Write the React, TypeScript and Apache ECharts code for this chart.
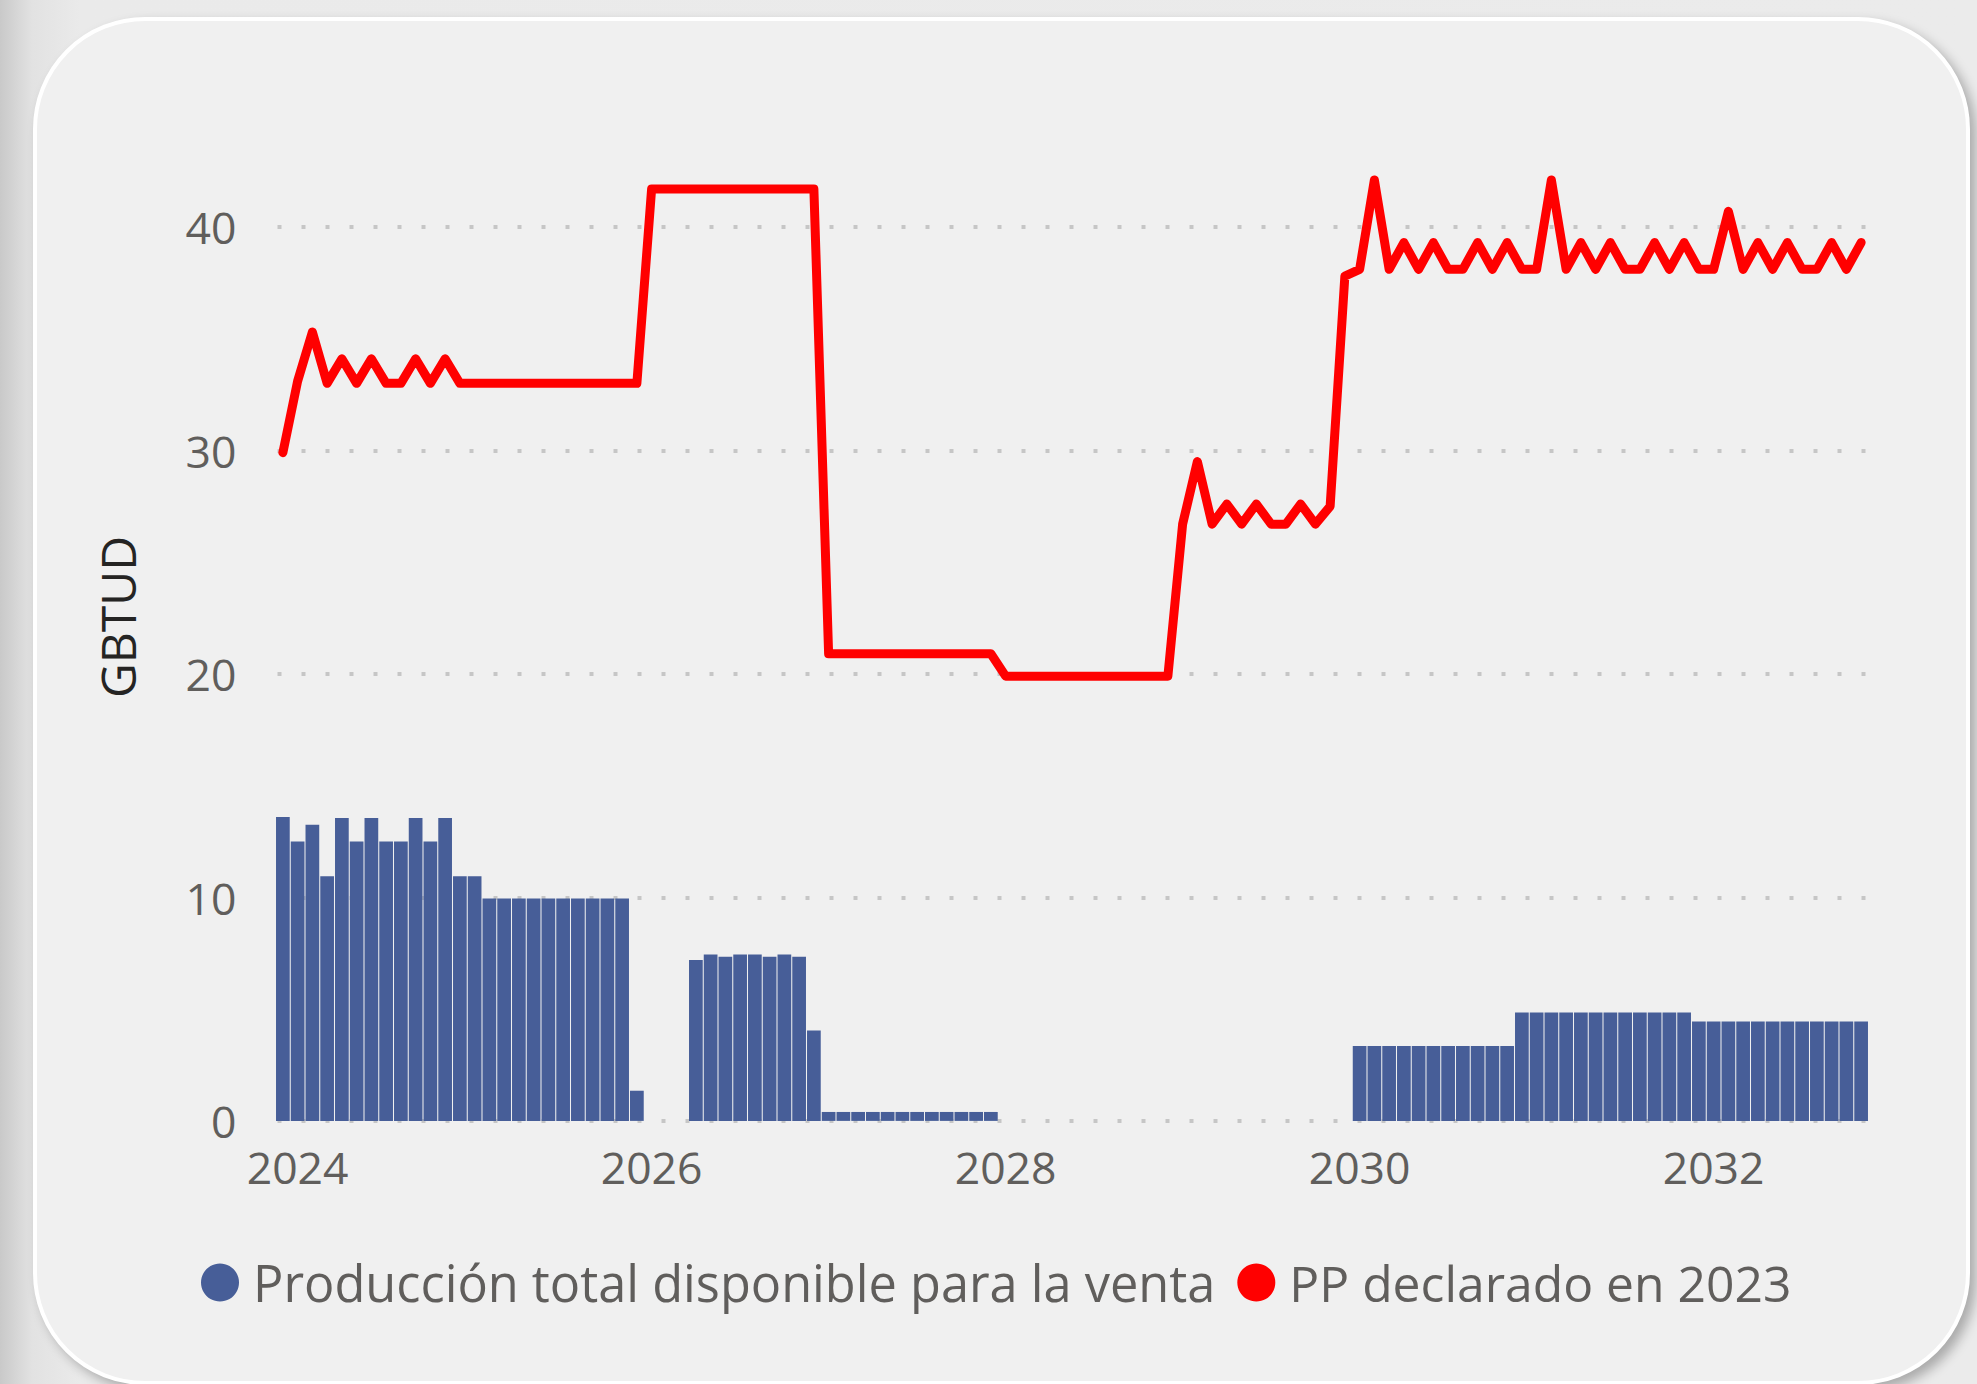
import React, { useEffect, useRef } from "react";
import * as echarts from "echarts";

// ---- Data ----
const startYear = 2023;
const startMonth = 12; // first category: 2023-12
const monthCount = 108;
const months: string[] = [];
for (let i = 0; i < monthCount; i++) {
  const m0 = startMonth - 1 + i;
  const y = startYear + Math.floor(m0 / 12);
  const m = (m0 % 12) + 1;
  months.push(`${y}-${String(m).padStart(2, "0")}`);
}

const xTickYears = ["2024", "2026", "2028", "2030", "2032"];
const yTicks = [0, 10, 20, 30, 40];

const produccionTotal: (number | null)[] = [
  13.6, 12.5, 13.25, 10.95, 13.55, 12.5, 13.55, 12.5, 12.5, 13.55, 12.5, 13.55,
  10.95, 10.95, 9.95, 9.95, 9.95, 9.95, 9.95, 9.95, 9.95, 9.95, 9.95, 9.95,
  1.35, null, null, null, 7.2, 7.45, 7.35, 7.45, 7.45, 7.35, 7.45, 7.35,
  4.05, 0.4, 0.4, 0.4, 0.4, 0.4, 0.4, 0.4, 0.4, 0.4, 0.4, 0.4,
  0.4, null, null, null, null, null, null, null, null, null, null, null,
  null, null, null, null, null, null, null, null, null, null, null, null,
  null, 3.35, 3.35, 3.35, 3.35, 3.35, 3.35, 3.35, 3.35, 3.35, 3.35, 3.35,
  4.85, 4.85, 4.85, 4.85, 4.85, 4.85, 4.85, 4.85, 4.85, 4.85, 4.85, 4.85,
  4.45, 4.45, 4.45, 4.45, 4.45, 4.45, 4.45, 4.45, 4.45, 4.45, 4.45, 4.45,
];

const ppDeclarado: number[] = [
  29.9, 33.1, 35.3, 33.0, 34.1, 33.0, 34.1, 33.0, 33.0, 34.1, 33.0, 34.1,
  33.0, 33.0, 33.0, 33.0, 33.0, 33.0, 33.0, 33.0, 33.0, 33.0, 33.0, 33.0,
  33.0, 41.7, 41.7, 41.7, 41.7, 41.7, 41.7, 41.7, 41.7, 41.7, 41.7, 41.7,
  41.7, 20.9, 20.9, 20.9, 20.9, 20.9, 20.9, 20.9, 20.9, 20.9, 20.9, 20.9,
  20.9, 19.9, 19.9, 19.9, 19.9, 19.9, 19.9, 19.9, 19.9, 19.9, 19.9, 19.9,
  19.9, 26.7, 29.5, 26.7, 27.6, 26.7, 27.6, 26.7, 26.7, 27.6, 26.7, 27.5,
  37.8, 38.1, 42.1, 38.1, 39.3, 38.1, 39.3, 38.1, 38.1, 39.3, 38.1, 39.3,
  38.1, 38.1, 42.1, 38.1, 39.3, 38.1, 39.3, 38.1, 38.1, 39.3, 38.1, 39.3,
  38.1, 38.1, 40.7, 38.1, 39.3, 38.1, 39.3, 38.1, 38.1, 39.3, 38.1, 39.3,
];

const seriesNames = ["Producción total disponible para la venta", "PP declarado en 2023"];
const yAxisTitle = "GBTUD";

const FONT = "'Open Sans', 'Noto Sans', sans-serif";

function Chart() {
  const ref = useRef<HTMLDivElement>(null);
  useEffect(() => {
    if (!ref.current) return;
    const chart = echarts.init(ref.current, undefined, { renderer: "svg" });
    chart.setOption({
      animation: false,
      backgroundColor: "transparent",
      grid: { left: 275.5, top: 226.9, width: 1593, height: 894, containLabel: false },
      legend: {
        left: 201,
        top: 1257,
        padding: 0,
        icon: "circle",
        itemWidth: 38,
        itemHeight: 38,
        itemGap: 22,
        textStyle: { fontSize: 50.5, color: "#605E5C", fontFamily: FONT, padding: [0, 0, 0, 9] },
        data: [
          { name: seriesNames[0] },
          { name: seriesNames[1], textStyle: { fontSize: 49.8 } },
        ],
      },
      graphic: [
        {
          type: "text",
          x: 117,
          y: 617,
          rotation: Math.PI / 2,
          style: {
            text: yAxisTitle,
            fontSize: 48,
            fontFamily: FONT,
            fill: "#252423",
            align: "center",
            verticalAlign: "middle",
          },
        },
      ],
      xAxis: {
        type: "category",
        data: months,
        boundaryGap: true,
        axisLine: { show: false },
        axisTick: { show: false },
        splitLine: { show: false },
        axisLabel: {
          interval: (index: number, value: string) =>
            value.endsWith("-01") && xTickYears.includes(value.slice(0, 4)),
          formatter: (value: string) => value.slice(0, 4),
          fontSize: 44.5,
          color: "#605E5C",
          fontFamily: FONT,
          margin: 23,
        },
      },
      yAxis: {
        type: "value",
        min: yTicks[0],
        max: yTicks[yTicks.length - 1],
        interval: 10,
        axisLine: { show: false },
        axisTick: { show: false },
        axisLabel: {
          fontSize: 44.5,
          color: "#605E5C",
          fontFamily: FONT,
          margin: 39,
          padding: [0, 0, 4, 0],
        },
        splitLine: {
          lineStyle: { color: "#C6C6C6", width: 4, type: [4, 20], dashOffset: 22 },
        },
      },
      series: [
        {
          name: seriesNames[0],
          type: "bar",
          data: produccionTotal,
          barCategoryGap: "7%",
          itemStyle: { color: "#475E98" },
          z: 2,
        },
        {
          name: seriesNames[1],
          type: "line",
          data: ppDeclarado,
          clip: false,
          symbol: "none",
          showSymbol: false,
          itemStyle: { color: "#FF0000" },
          lineStyle: { color: "#FF0000", width: 9, cap: "round", join: "round" },
          z: 3,
        },
      ],
    });
    return () => chart.dispose();
  }, []);
  return (
    <div
      ref={ref}
      style={{ position: "absolute", left: 0, top: 0, width: 1977, height: 1384 }}
    />
  );
}

export default function App() {
  return (
    <div
      style={{
        position: "fixed",
        left: 0,
        top: 0,
        width: 1977,
        height: 1384,
        overflow: "hidden",
        background: "linear-gradient(90deg, #c9c9c9 0px, #e2e2e2 32px, #eaeaea 80px, #ebebeb 100%)",
      }}
    >
      <div
        style={{
          position: "absolute",
          left: 33,
          top: 17,
          width: 1937,
          height: 1368,
          boxSizing: "border-box",
          borderRadius: 112,
          border: "4px solid #ffffff",
          background: "#f0f0f0",
          boxShadow: "6px 6px 12px rgba(0,0,0,0.28)",
        }}
      />
      <Chart />
    </div>
  );
}
